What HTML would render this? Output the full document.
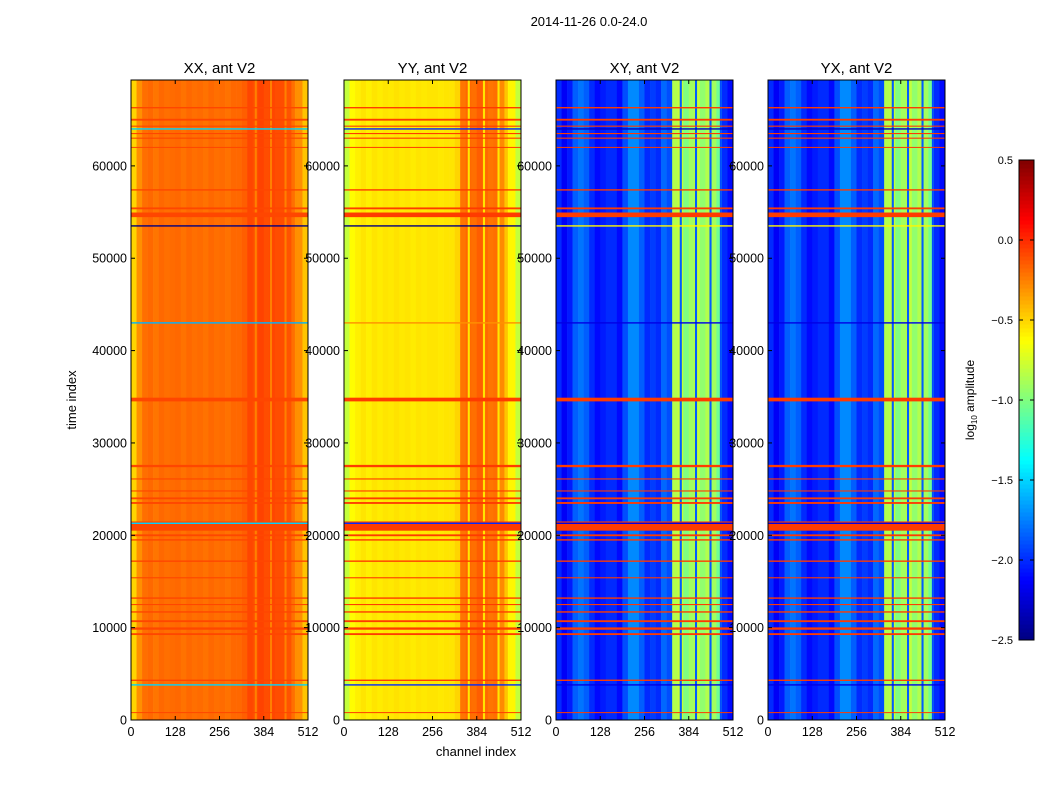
<!DOCTYPE html>
<html><head><meta charset="utf-8"><style>
body{margin:0;background:#fff;}
svg text{font-family:"Liberation Sans",sans-serif;fill:#000;}
</style></head><body>
<svg id="fig" width="1050" height="800" viewBox="0 0 1050 800" xmlns="http://www.w3.org/2000/svg">
<rect width="1050" height="800" fill="#fff"/>
<text x="589" y="26" font-size="13" text-anchor="middle">2014-11-26 0.0-24.0</text>
<text transform="translate(76,400) rotate(-90)" font-size="13" text-anchor="middle">time index</text>
<text x="476" y="756" font-size="13" text-anchor="middle">channel index</text>
<g id="panels"></g>
<g id="cbar"></g>
</svg>
<script>
// ---- data ----
const panelNames = ["XX, ant V2","YY, ant V2","XY, ant V2","YX, ant V2"];
const xTicks = [0,128,256,384,512];
const yTicks = [0,10000,20000,30000,40000,50000,60000];
const cbTicks = [0.5,0.0,-0.5,-1.0,-1.5,-2.0,-2.5];
// column profiles: 32 bins of 16 channels (log10 amplitude)
const profXX = [-0.5,-0.3,-0.2,-0.18,-0.22,-0.18,-0.2,-0.19,-0.18,-0.21,-0.18,-0.2,-0.19,-0.21,-0.18,-0.2,-0.19,-0.21,-0.18,-0.18,-0.15,-0.08,-0.1,-0.07,-0.1,-0.08,-0.1,-0.1,-0.12,-0.2,-0.3,-0.45];
const profYY = [-0.8,-0.62,-0.58,-0.55,-0.58,-0.55,-0.57,-0.55,-0.56,-0.54,-0.56,-0.55,-0.57,-0.55,-0.56,-0.55,-0.55,-0.56,-0.55,-0.55,-0.5,-0.22,-0.18,-0.2,-0.15,-0.18,-0.22,-0.2,-0.28,-0.45,-0.6,-0.8];
const profXY = [-2.0,-2.15,-2.05,-1.85,-1.78,-1.85,-2.0,-2.1,-2.05,-2.0,-2.0,-2.1,-1.9,-1.72,-1.72,-1.85,-2.0,-1.95,-2.0,-1.82,-1.9,-0.85,-0.8,-1.0,-0.9,-0.8,-0.95,-0.85,-0.9,-1.05,-2.0,-2.1];
const profYX = [-2.0,-2.15,-2.05,-1.85,-1.78,-1.85,-2.0,-2.1,-2.05,-2.0,-2.0,-2.1,-1.9,-1.72,-1.72,-1.85,-2.0,-1.95,-2.0,-1.82,-1.9,-0.85,-0.8,-1.0,-0.9,-0.8,-0.95,-0.85,-0.9,-1.05,-2.0,-2.1];
// narrow separator columns (channel start) and per-panel values
const sepChannels = [358,402,444,474];
const sepXX = [-0.25,-0.25,-0.25,-0.3];
const sepYY = [-0.55,-0.55,-0.55,-0.6];
const sepXY = [-1.85,-1.85,-1.85,-1.9];
const sepYX = [-1.85,-1.85,-1.85,-1.9];
// flagged time stripes (time index, thickness in time units)
const stripeTimes = [66300,65000,64300,63500,63000,62000,57400,55400,54700,34700,27500,26100,24800,24000,23500,21000,20000,19500,17200,15400,13200,12500,11700,10700,9900,9300,4300,800];
const stripeWidth = [150,200,120,120,120,100,150,200,500,400,250,120,120,200,200,1000,200,150,150,120,150,120,150,200,250,200,150,100];
const stripeValues = [-0.08,-0.05,-0.05,-0.05];
// bright/dark narrow lines (time index) per polarization
const lineTimes = [3800,21300,43000,53500,64000];
const lineXX = [-1.5,-1.5,-1.6,-2.5,-1.5];
const lineYY = [-2.0,-2.0,-0.3,-2.5,-2.0];
const lineXY = [-2.2,-2.2,-2.2,-0.6,-2.3];
const lineYX = [-2.2,-2.2,-2.2,-0.6,-2.3];

const profiles=[profXX,profYY,profXY,profYX];
const seps=[sepXX,sepYY,sepXY,sepYX];
const lines=[lineXX,lineYY,lineXY,lineYX];
const panelX=[131,344,556,768], PW=177, PT=80, PB=720;
const vmin=-2.5, vmax=0.5, tmax=69300, NCH=512;

function jet(v){let t=(v-vmin)/(vmax-vmin);t=Math.max(0,Math.min(1,t));
 const c=x=>Math.round(255*Math.max(0,Math.min(1,1.5-Math.abs(4*t-x))));
 return `rgb(${c(3)},${c(2)},${c(1)})`;}
const NS="http://www.w3.org/2000/svg";
function mk(tag,attrs,parent){const e=document.createElementNS(NS,tag);for(const k in attrs)e.setAttribute(k,attrs[k]);parent.appendChild(e);return e;}
const yScale=t=>PB-(t/tmax)*(PB-PT);
const root=document.getElementById('panels');
panelNames.forEach((name,p)=>{
 const x0=panelX[p];const xs=c=>x0+c/NCH*PW;
 const g=mk('g',{},root);
 
 
 profiles[p].forEach((v,i)=>{const r=mk('rect',{x:xs(i*16),y:PT,width:xs((i+1)*16)-xs(i*16)+0.3,height:PB-PT,fill:jet(v)},g);
  
  });
 sepChannels.forEach((c,i)=>{const r=mk('rect',{x:xs(c),y:PT,width:xs(c+6)-xs(c),height:PB-PT,fill:jet(seps[p][i])},g);
  
  });
 stripeTimes.forEach((t,i)=>{const h=Math.max(1,yScale(t-stripeWidth[i]/2)-yScale(t+stripeWidth[i]/2));
  const r=mk('rect',{x:x0,y:yScale(t)-h/2,width:PW,height:h,fill:jet(stripeValues[p])},g);
  
  });
 lineTimes.forEach((t,i)=>{const r=mk('rect',{x:x0,y:yScale(t)-0.7,width:PW,height:1.4,fill:jet(lines[p][i])},g);
  
  });
 const fr=mk('rect',{x:x0,y:PT,width:PW,height:PB-PT,fill:'none',stroke:'#000','stroke-width':1},g);
 
 
 const tt=mk('text',{x:x0+PW/2,y:73,'font-size':15,'text-anchor':'middle'},g);tt.textContent=name;
 
 
 xTicks.forEach(c=>{mk('line',{x1:xs(c),x2:xs(c),y1:PB,y2:PB-4,stroke:'#000'},g);mk('line',{x1:xs(c),x2:xs(c),y1:PT,y2:PT+4,stroke:'#000'},g);
  const l=mk('text',{x:xs(c),y:PB+16,'font-size':12.5,'text-anchor':'middle'},g);l.textContent=c;
  
  });
 yTicks.forEach(t=>{const y=yScale(t);mk('line',{x1:x0,x2:x0+4,y1:y,y2:y,stroke:'#000'},g);mk('line',{x1:x0+PW,x2:x0+PW-4,y1:y,y2:y,stroke:'#000'},g);
  const l=mk('text',{x:x0-4,y:y+4.5,'font-size':12.5,'text-anchor':'end'},g);l.textContent=t;
  
  });
});
// colorbar
const cb=document.getElementById('cbar');const cbT=160,cbB=640,cbX=1019,cbW=15;
const cbY=v=>cbB-(v-vmin)/(vmax-vmin)*(cbB-cbT);
for(let i=0;i<120;i++){const v0=vmin+i*(vmax-vmin)/120,v1=vmin+(i+1)*(vmax-vmin)/120;
 mk('rect',{x:cbX,y:cbY(v1),width:cbW,height:cbY(v0)-cbY(v1)+0.5,fill:jet((v0+v1)/2)},cb);}
mk('rect',{x:cbX,y:cbT,width:cbW,height:cbB-cbT,fill:'none',stroke:'#000'},cb);
cbTicks.forEach(v=>{const y=cbY(v);mk('line',{x1:cbX,x2:cbX+4,y1:y,y2:y,stroke:'#000'},cb);mk('line',{x1:cbX+cbW,x2:cbX+cbW-4,y1:y,y2:y,stroke:'#000'},cb);
 const l=mk('text',{x:1013,y:y+4,'font-size':11,'text-anchor':'end'},cb);l.textContent=v.toFixed(1).replace('-','\u2212');
 
 });
const lab=mk('text',{transform:'translate(974,400) rotate(-90)','font-size':12,'text-anchor':'middle'},cb);


lab.innerHTML='log<tspan font-size="8" dy="3">10</tspan><tspan dy="-3"> amplitude</tspan>';
</script>
</body></html>
